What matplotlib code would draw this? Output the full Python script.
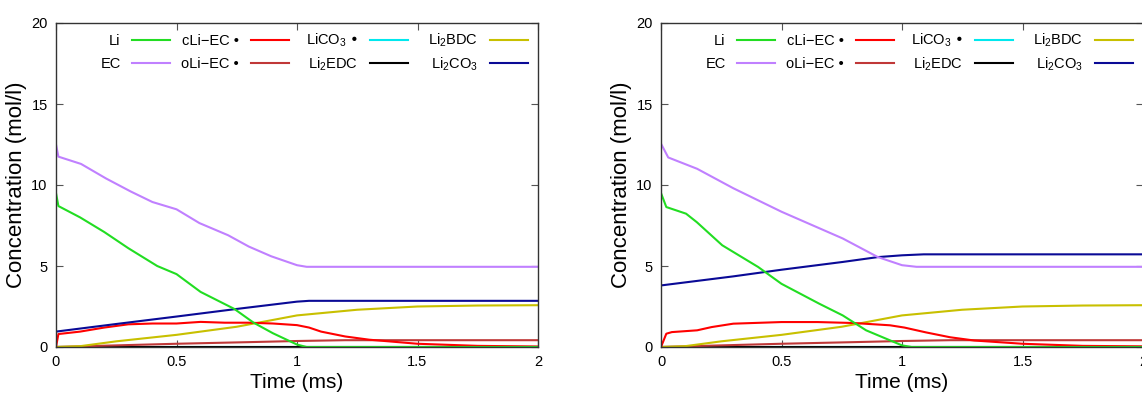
import matplotlib
matplotlib.use("Agg")
import matplotlib.pyplot as plt
from matplotlib.ticker import FormatStrFormatter

plt.rcParams["font.family"] = ["Liberation Sans", "DejaVu Sans"]
plt.rcParams["mathtext.default"] = "regular"

# ---- data (time in ms, concentration in mol/l) ----
# left panel
t_li_L = [0, 0.01, 0.1, 0.2, 0.3, 0.42, 0.5, 0.6, 0.74, 0.82, 0.9, 1.0, 1.04, 2.0]
li_L = [9.5, 8.7, 8.0, 7.1, 6.1, 5.0, 4.5, 3.4, 2.35, 1.5, 0.85, 0.15, 0.0, 0.0]
t_ec_L = [0, 0.01, 0.104, 0.208, 0.31, 0.40, 0.5, 0.595, 0.714, 0.80, 0.893, 1.0, 1.04, 2.0]
ec_L = [12.5, 11.75, 11.3, 10.4, 9.6, 8.95, 8.5, 7.65, 6.9, 6.2, 5.6, 5.05, 4.95, 4.95]
t_c_L = [0, 0.01, 0.1, 0.2, 0.3, 0.4, 0.5, 0.6, 0.7, 0.8, 0.9, 1.0, 1.05, 1.1, 1.2, 1.3, 1.5, 1.75, 2.0]
cliec_L = [0, 0.8, 0.95, 1.2, 1.4, 1.45, 1.45, 1.55, 1.5, 1.5, 1.45, 1.35, 1.2, 0.95, 0.65, 0.45, 0.2, 0.07, 0.03]
t_o = [0, 0.25, 0.5, 0.8, 1.0, 1.2, 2.0]
oliec_L = [0, 0.1, 0.2, 0.3, 0.37, 0.42, 0.42]
t_flat = [0, 2.0]
lico3_L = [0.0, 0.0]
li2edc_L = [0.02, 0.02]
t_bdc = [0, 0.1, 0.25, 0.5, 0.75, 1.0, 1.25, 1.5, 1.75, 2.0]
li2bdc_L = [0, 0.05, 0.35, 0.75, 1.25, 1.95, 2.3, 2.5, 2.56, 2.58]
t_co3_L = [0, 0.25, 0.5, 0.75, 1.0, 1.05, 2.0]
li2co3_L = [0.95, 1.42, 1.88, 2.35, 2.8, 2.85, 2.85]

# right panel
t_li_R = [0, 0.022, 0.104, 0.149, 0.254, 0.403, 0.5, 0.657, 0.754, 0.851, 1.0, 1.04, 2.0]
li_R = [9.5, 8.64, 8.23, 7.7, 6.28, 4.94, 3.9, 2.67, 1.95, 1.03, 0.1, 0.0, 0.0]
t_ec_R = [0, 0.03, 0.15, 0.3, 0.5, 0.754, 0.9, 1.0, 1.06, 2.0]
ec_R = [12.55, 11.7, 11.0, 9.8, 8.35, 6.7, 5.55, 5.05, 4.95, 4.95]
t_c_R = [0, 0.022, 0.045, 0.15, 0.21, 0.3, 0.5, 0.65, 0.8, 0.95, 1.01, 1.1, 1.2, 1.3, 1.5, 1.75, 2.0]
cliec_R = [0, 0.82, 0.92, 1.03, 1.23, 1.44, 1.54, 1.54, 1.48, 1.34, 1.2, 0.9, 0.6, 0.4, 0.2, 0.07, 0.04]
oliec_R = [0, 0.1, 0.2, 0.3, 0.37, 0.42, 0.42]
lico3_R = [0.0, 0.0]
li2edc_R = [0.02, 0.02]
li2bdc_R = [0, 0.05, 0.35, 0.75, 1.25, 1.95, 2.3, 2.5, 2.56, 2.58]
t_co3_R = [0, 0.3, 0.5, 0.754, 0.9, 1.0, 1.09, 2.0]
li2co3_R = [3.8, 4.36, 4.77, 5.25, 5.55, 5.66, 5.72, 5.72]

labels = ["Li", "EC", "cLi\u2212EC \u2022", "oLi\u2212EC \u2022",
          "LiCO$_3$ \u2022", "Li$_2$EDC", "Li$_2$BDC", "Li$_2$CO$_3$"]
colors = ["#22dd22", "#c080ff", "#ff0000", "#c03838",
          "#00e8ee", "#000000", "#c8c000", "#0a0a96"]

panels = [
    [(t_li_L, li_L), (t_ec_L, ec_L), (t_c_L, cliec_L), (t_o, oliec_L),
     (t_flat, lico3_L), (t_flat, li2edc_L), (t_bdc, li2bdc_L), (t_co3_L, li2co3_L)],
    [(t_li_R, li_R), (t_ec_R, ec_R), (t_c_R, cliec_R), (t_o, oliec_R),
     (t_flat, lico3_R), (t_flat, li2edc_R), (t_bdc, li2bdc_R), (t_co3_R, li2co3_R)],
]

W, H = 1142, 395
fig = plt.figure(figsize=(W / 100, H / 100), dpi=100)
lefts = [56, 661]
col_ends = [0.237, 0.483, 0.730, 0.979]
# plain-text columns need more spacing than the ones with subscripts
col_top = [0.965, 0.965, 0.972, 0.972]
col_spacing = [0.6, 0.6, 0.4, 0.4]

for left, series in zip(lefts, panels):
    ax = fig.add_axes([left / W, 1 - 347 / H, 482 / W, 324 / H])
    # draw zero-level species first so they sit underneath
    order = [4, 5, 3, 6, 2, 7, 1, 0]
    handles = [None] * 8
    for i in order:
        t, v = series[i]
        line, = ax.plot(t, v, color=colors[i], lw=1.5)
        handles[i] = line

    ax.set_xlim(0, 2)
    ax.set_ylim(0, 20)
    ax.set_xticks([0, 0.5, 1, 1.5, 2])
    ax.set_yticks([0, 5, 10, 15, 20])
    ax.xaxis.set_major_formatter(FormatStrFormatter("%g"))
    ax.yaxis.set_major_formatter(FormatStrFormatter("%g"))
    ax.tick_params(direction="in", top=True, right=True, length=5, width=0.8,
                   color="#555555", labelsize=10.5, pad=6)
    for sp in ax.spines.values():
        sp.set_color("#333333")
        sp.set_linewidth(1.0)
    ax.set_xlabel("Time (ms)", fontsize=15, labelpad=3)
    ax.set_ylabel("Concentration (mol/l)", fontsize=16, labelpad=3)

    # gnuplot-style key: 4 columns, label right-aligned before the sample
    for c in range(4):
        leg = ax.legend([handles[2 * c], handles[2 * c + 1]],
                        [labels[2 * c], labels[2 * c + 1]],
                        loc="upper right", bbox_to_anchor=(col_ends[c], col_top[c]),
                        frameon=False, markerfirst=False, fontsize=10.5,
                        handlelength=2.6, handletextpad=0.8,
                        labelspacing=col_spacing[c],
                        borderpad=0, borderaxespad=0)
        if c < 3:
            ax.add_artist(leg)

fig.savefig("out.png", dpi=100)
